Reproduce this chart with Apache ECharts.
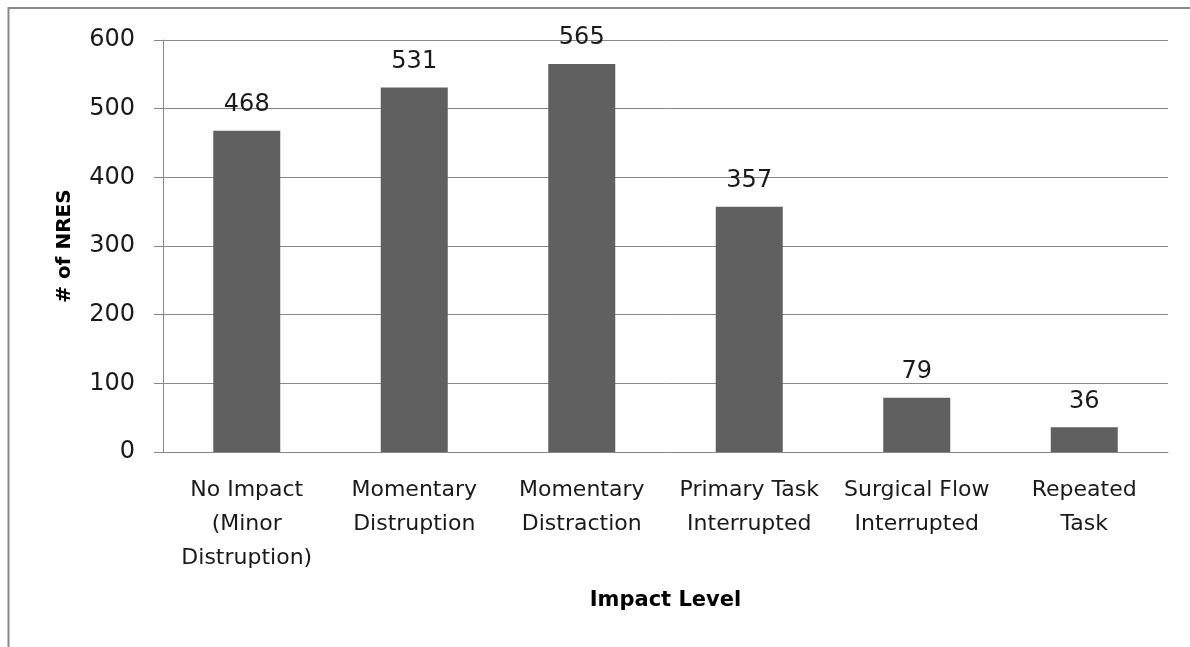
<!DOCTYPE html>
<html>
<head>
<meta charset="utf-8">
<script src="https://cdn.jsdelivr.net/npm/echarts@6/dist/echarts.min.js"></script>
<style>html,body{margin:0;padding:0;background:#fff}#c{width:1190px;height:647px}</style>
</head>
<body>
<div id="c"></div>
<script>
const categories = ["No Impact\n(Minor\nDistruption)", "Momentary\nDistruption", "Momentary\nDistraction", "Primary Task\nInterrupted", "Surgical Flow\nInterrupted", "Repeated\nTask"];
const values = [468, 531, 565, 357, 79, 36];
const yTicks = [0, 100, 200, 300, 400, 500, 600];

const font = "DejaVu Sans";
const chart = echarts.init(document.getElementById('c'));
chart.setOption({
  animation: false,
  backgroundColor: '#fff',
  textStyle: { fontFamily: font },
  graphic: [{
    type: 'rect', silent: true,
    shape: { x: 8.5, y: 8, width: 1300, height: 800 },
    style: { fill: 'none', stroke: '#888', lineWidth: 2 }
  }],
  grid: { left: 163, right: 22, top: 40, bottom: 195, containLabel: false },
  xAxis: {
    type: 'category',
    data: categories,
    name: 'Impact Level',
    nameLocation: 'middle',
    nameGap: 138,
    nameTextStyle: { fontFamily: font, fontSize: 21, fontWeight: 'bold', color: '#000' },
    axisLine: { lineStyle: { color: '#888', width: 1 } },
    axisTick: { show: false },
    axisLabel: { fontFamily: font, fontSize: 22, color: '#1a1a1a', lineHeight: 34, margin: 21, interval: 0 }
  },
  yAxis: {
    type: 'value',
    min: yTicks[0], max: yTicks[yTicks.length - 1], interval: 100,
    name: '# of NRES',
    nameLocation: 'middle',
    nameGap: 88,
    nameRotate: 90,
    nameTextStyle: { fontFamily: font, fontSize: 20, fontWeight: 'bold', color: '#000' },
    axisLine: { show: true, lineStyle: { color: '#888', width: 1 } },
    axisTick: { show: true, inside: false, length: 9, lineStyle: { color: '#888' } },
    axisLabel: { fontFamily: font, fontSize: 24, color: '#1a1a1a', margin: 28 },
    splitLine: { show: true, lineStyle: { color: '#888', width: 1 } }
  },
  series: [{
    type: 'bar',
    data: values,
    barWidth: '40%',
    itemStyle: { color: '#606060' },
    label: { show: true, position: 'top', distance: 14, fontFamily: font, fontSize: 24, color: '#1a1a1a' }
  }]
});
</script>
</body>
</html>
